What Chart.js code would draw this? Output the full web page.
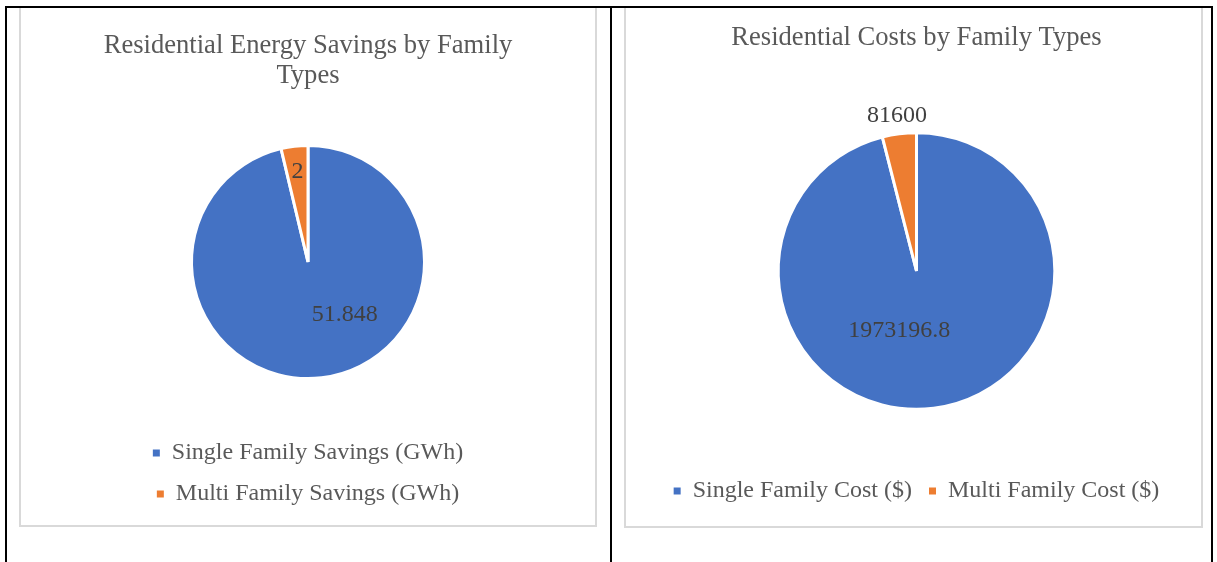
<!DOCTYPE html>
<html>
<head>
<meta charset="utf-8">
<script src="https://cdn.jsdelivr.net/npm/chart.js@4.4.1/dist/chart.umd.min.js"></script>
<style>
  body { margin: 0; background: #fff; width: 1217px; height: 562px; overflow: hidden; position: relative; }
  .rule { position: absolute; background: #000; }
  .box { position: absolute; border: 2px solid #d9d9d9; background: #fff; }
  canvas { display: block; }
</style>
</head>
<body>
<div class="rule" style="left:5px;top:6px;width:2px;height:556px"></div>
<div class="rule" style="left:610px;top:6px;width:2px;height:556px"></div>
<div class="rule" style="left:1211px;top:6px;width:2px;height:556px"></div>

<div class="box" style="left:19px;top:6px;width:574px;height:517px">
  <canvas id="savingsChart" width="574" height="517"></canvas>
</div>
<div class="box" style="left:624px;top:6px;width:575px;height:518px">
  <canvas id="costChart" width="575" height="518"></canvas>
</div>
<div class="rule" style="left:5px;top:6px;width:1208px;height:2px"></div>

<script>
// savings chart data
const savingsLabels = ["Single Family Savings (GWh)", "Multi Family Savings (GWh)"];
const savingsValues = [51.848, 2];

// cost chart data
const costLabels = ["Single Family Cost ($)", "Multi Family Cost ($)"];
const costValues = [1973196.8, 81600];

const sliceColors = ["#4472C4", "#ED7D31"];
const serif = "'Liberation Serif', 'Times New Roman', serif";

// draws the value of every slice, placed from the arc geometry
const sliceLabels = {
  id: "sliceLabels",
  afterDatasetsDraw(chart, args, opts) {
    const ctx = chart.ctx;
    const meta = chart.getDatasetMeta(0);
    const values = chart.data.datasets[0].data;
    ctx.save();
    ctx.font = "24px " + serif;
    ctx.fillStyle = "#404040";
    ctx.textAlign = "center";
    ctx.textBaseline = "middle";
    meta.data.forEach((arc, i) => {
      const p = arc.getProps(["x", "y", "startAngle", "endAngle", "outerRadius"], true);
      const spot = opts.spots[i];
      const a = spot.angle != null
        ? (spot.angle - 90) * Math.PI / 180
        : (p.startAngle + p.endAngle) / 2;
      const r = p.outerRadius * spot.ratio;
      ctx.fillText(String(values[i]), p.x + Math.cos(a) * r, p.y + Math.sin(a) * r);
    });
    ctx.restore();
  }
};

// legend squares without the white slice border on them
const plainLegendItems = (chart) =>
  Chart.overrides.pie.plugins.legend.labels
    .generateLabels(chart)
    .map((item) => ({ ...item, lineWidth: 0 }));

function makePie(id, labels, values, title, cfg) {
  return new Chart(id, {
    type: "pie",
    data: {
      labels: labels,
      datasets: [
        {
          data: values,
          backgroundColor: sliceColors,
          borderColor: "#ffffff",
          borderWidth: 3,
          radius: cfg.radius
        }
      ]
    },
    options: {
      responsive: false,
      animation: false,
      layout: { padding: cfg.padding },
      plugins: {
        title: {
          display: true,
          text: title,
          color: "#595959",
          font: { family: serif, size: 26.6, weight: "normal", lineHeight: 30 / 26.6 },
          padding: cfg.titlePadding
        },
        legend: {
          position: "bottom",
          labels: {
            color: "#595959",
            font: { family: serif, size: 24 },
            boxWidth: 7,
            boxHeight: 7,
            padding: 17,
            generateLabels: plainLegendItems
          }
        },
        tooltip: { enabled: false },
        sliceLabels: { spots: cfg.spots }
      }
    },
    plugins: [sliceLabels]
  });
}

makePie("savingsChart", savingsLabels, savingsValues,
  ["Residential Energy Savings by Family", "Types"], {
    radius: "72.6%",
    padding: { left: 0, right: 0, top: 0, bottom: 9 },
    titlePadding: { top: 23, bottom: 9 },
    spots: [{ angle: 145, ratio: 0.55 }, { angle: null, ratio: 0.78 }]
  });

makePie("costChart", costLabels, costValues,
  "Residential Costs by Family Types", {
    radius: "73%",
    padding: { left: 6, right: 0, top: 0, bottom: 13 },
    titlePadding: { top: 15, bottom: 27 },
    spots: [{ angle: 196, ratio: 0.45 }, { angle: null, ratio: 1.135 }]
  });
</script>
</body>
</html>
